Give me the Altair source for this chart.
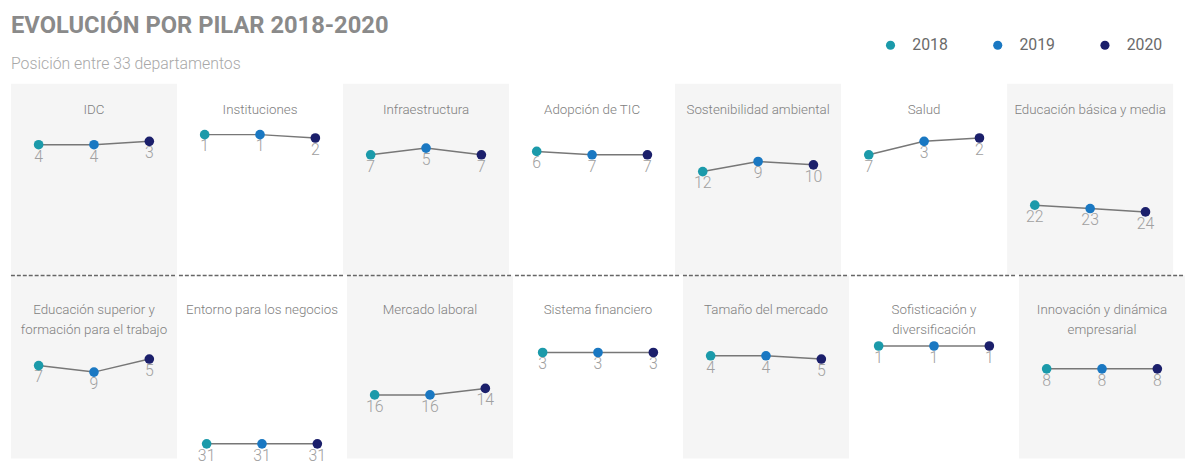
import altair as alt
import pandas as pd

TITULO = "EVOLUCIÓN POR PILAR 2018-2020"
SUBTITULO = "Posición entre 33 departamentos"

anios = [2018, 2019, 2020]
colores = ["#1b9aaa", "#1a78c2", "#1b1f6b"]

pilares = [
    "IDC",
    "Instituciones",
    "Infraestructura",
    "Adopción de TIC",
    "Sostenibilidad ambiental",
    "Salud",
    "Educación básica y media",
    "Educación superior y\nformación para el trabajo",
    "Entorno para los negocios",
    "Mercado laboral",
    "Sistema financiero",
    "Tamaño del mercado",
    "Sofisticación y\ndiversificación",
    "Innovación y dinámica\nempresarial",
]
pos_2018 = [4, 1, 7, 6, 12, 7, 22, 7, 31, 16, 3, 4, 1, 8]
pos_2019 = [4, 1, 5, 7, 9, 3, 23, 9, 31, 16, 3, 4, 1, 8]
pos_2020 = [3, 2, 7, 7, 10, 2, 24, 5, 31, 14, 3, 5, 1, 8]

rows = []
for i, p in enumerate(pilares):
    for a, v in zip(anios, (pos_2018[i], pos_2019[i], pos_2020[i])):
        rows.append({"pilar": p, "col": i % 7, "fila": i // 7, "anio": a, "pos": v})
df = pd.DataFrame(rows)

W = 168
FONT = "Roboto"
color_enc = alt.Color("anio:N", scale=alt.Scale(domain=anios, range=colores), legend=None)


def fila_chart(fila, H, dom, ty, dashed):
    data = df[df["fila"] == fila]
    orden = pilares[fila * 7:(fila + 1) * 7]
    x = alt.X("anio:Q", scale=alt.Scale(domain=[2017.5, 2020.5], nice=False, zero=False), axis=None)
    y = alt.Y("pos:Q", scale=alt.Scale(domain=dom, reverse=True, nice=False, zero=False), axis=None)
    first = alt.Chart().transform_filter("datum.anio == 2018")
    bg = first.mark_rect().encode(
        x=alt.value(0), x2=alt.value(W), y=alt.value(0), y2=alt.value(H),
        color=alt.condition("datum.col % 2 == 0", alt.value("#f5f5f5"), alt.value("#ffffff")),
    )
    tit = first.mark_text(
        align="center", baseline="top", lineBreak="\n", lineHeight=20,
        fontSize=13.5, fontWeight=300, color="#808080", font=FONT,
    ).encode(x=alt.value(W / 2), y=alt.value(ty), text="pilar:N")
    line = alt.Chart().mark_line(color="#777", strokeWidth=1.5).encode(x=x, y=y)
    pts = alt.Chart().mark_circle(size=95, opacity=1).encode(x=x, y=y, color=color_enc)
    lab = alt.Chart().mark_text(
        dy=12, baseline="middle", align="center", fontSize=16, fontWeight=300,
        color="#a0a0a0", font=FONT,
    ).encode(x=x, y=y, text="pos:Q")
    layers = [bg, tit]
    if dashed:
        layers.append(first.mark_rule(color="#666", strokeWidth=1.5, strokeDash=[4, 2]).encode(
            x=alt.value(0), x2=alt.value(W), y=alt.value(0)))
    layers += [lab, line, pts]
    return alt.layer(*layers, data=data).properties(width=W, height=H).facet(
        column=alt.Column("pilar:N", sort=orden, header=alt.Header(labels=False, title=None)),
        spacing=0,
    )


leg_df = pd.DataFrame({"anio": anios})
lx = alt.X("anio:Q", scale=alt.Scale(domain=[2018, 2020], range=[890, 1107], nice=False, zero=False), axis=None)
leg_pts = alt.Chart(leg_df).mark_circle(size=85, opacity=1).encode(x=lx, y=alt.value(35), color=color_enc)
leg_txt = alt.Chart(leg_df).mark_text(
    align="left", baseline="middle", dx=22, fontSize=16, color="#6a6a6a", font=FONT
).encode(x=lx, y=alt.value(35), text="anio:N")
tit = alt.Chart(pd.DataFrame({"t": [TITULO]})).mark_text(
    align="left", baseline="alphabetic", fontSize=24, fontWeight="bold",
    color="#8a8a8a", font=FONT,
).encode(x=alt.value(0), y=alt.value(23), text="t:N")
sub = alt.Chart(pd.DataFrame({"t": [SUBTITULO]})).mark_text(
    align="left", baseline="alphabetic", fontSize=16, fontWeight=300,
    color="#a8a8a8", font=FONT,
).encode(x=alt.value(0), y=alt.value(59), text="t:N")
header = alt.layer(tit, sub, leg_pts, leg_txt).properties(width=7 * W, height=74)

row1 = fila_chart(0, 193, [-14.12, 42.65], 20, False)
row2 = fila_chart(1, 185, [-20.6, 35.45], 28, True)

chart = alt.vconcat(header, row1, row2, spacing=0).properties(
    padding={"left": 2, "top": 0, "right": 0, "bottom": 0}
).configure_view(stroke=None)

chart.save("out.html", embed_options={"renderer": "svg", "actions": False})
